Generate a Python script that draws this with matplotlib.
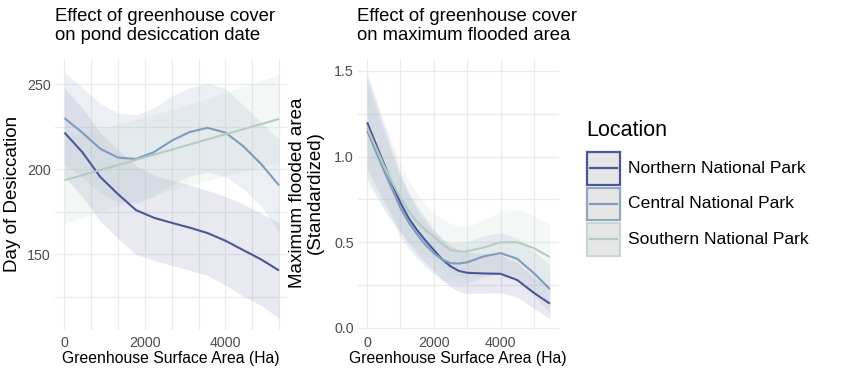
import matplotlib
matplotlib.use("Agg")
import matplotlib.pyplot as plt
from matplotlib.patches import Rectangle
from matplotlib.lines import Line2D
from matplotlib.ticker import FixedLocator

plt.rcParams['font.family'] = ['Liberation Sans', 'DejaVu Sans']

locations = ["Northern National Park", "Central National Park", "Southern National Park"]
line_colors = ["#4b5796", "#7f9cba", "#b4cbc2"]
fill_colors = ["#7d7fb5", "#93a9c4", "#b9d0c6"]
box_colors = ["#4b5597", "#8fa7c3", "#c6d8d1"]

# ---- Left panel: day of desiccation ----
x_left = [0, 444, 889, 1333, 1778, 2222, 2667, 3111, 3556, 4000, 4444, 4889, 5333]
desic_north = [221.5, 210, 195.5, 185.3, 176, 171.5, 168.5, 165.7, 162.5, 158, 152.5, 147, 140.5]
desic_north_hi = [247.5, 236, 221.5, 211.3, 202, 196.5, 193.5, 190.7, 187.5, 184, 179.5, 174, 168.5]
desic_north_lo = [195.5, 184, 169.5, 159.3, 150, 146.5, 143.5, 140.7, 137.5, 132, 125.5, 120, 112.5]
desic_central = [230, 221.5, 212, 206.8, 206, 210, 216.8, 221.8, 224.3, 221.5, 213.5, 203, 190.5]
desic_central_hi = [257, 248, 238.5, 233, 232, 236, 243, 248, 250.3, 247.5, 237.5, 227.5, 217.5]
desic_central_lo = [203, 195, 186, 181, 180, 184, 191, 196, 198.3, 195.5, 188.5, 178.5, 163]
desic_south = [193.5, 196.5, 199.5, 202.5, 205.5, 208.5, 211.5, 214.5, 217.5, 220.5, 223.5, 226.5, 229.5]
desic_south_hi = [219, 221.5, 224, 226.5, 229.5, 232, 235, 238, 241.5, 245, 248.5, 252, 255.5]
desic_south_lo = [168, 171.5, 175, 178.5, 181.5, 185, 188, 191, 193.5, 196, 198.5, 201, 203.5]

# ---- Right panel: maximum flooded area ----
x_right = [0, 250, 500, 750, 1000, 1250, 1500, 1750, 2000, 2250, 2500, 2750, 3000,
           3500, 4000, 4500, 5000, 5480]
flood_north = [1.20, 1.08, 0.96, 0.84, 0.73, 0.64, 0.57, 0.51, 0.455, 0.40, 0.36, 0.333, 0.322,
               0.318, 0.316, 0.28, 0.205, 0.142]
flood_north_hi = [1.47, 1.33, 1.18, 1.04, 0.90, 0.79, 0.71, 0.64, 0.575, 0.52, 0.48, 0.455, 0.442,
                  0.433, 0.426, 0.38, 0.295, 0.232]
flood_north_lo = [0.93, 0.83, 0.74, 0.65, 0.56, 0.49, 0.43, 0.38, 0.335, 0.28, 0.24, 0.212, 0.202,
                  0.203, 0.206, 0.18, 0.115, 0.052]
flood_central = [1.152, 1.035, 0.92, 0.81, 0.70, 0.615, 0.545, 0.485, 0.437, 0.40, 0.378, 0.376, 0.383,
                 0.418, 0.437, 0.404, 0.32, 0.227]
flood_central_hi = [1.432, 1.285, 1.14, 1.00, 0.87, 0.77, 0.685, 0.615, 0.557, 0.52, 0.498, 0.496, 0.503,
                    0.538, 0.557, 0.524, 0.45, 0.367]
flood_central_lo = [0.872, 0.785, 0.70, 0.62, 0.53, 0.46, 0.405, 0.355, 0.317, 0.28, 0.258, 0.256, 0.263,
                    0.298, 0.317, 0.284, 0.19, 0.087]
flood_south = [1.17, 1.06, 0.95, 0.85, 0.76, 0.68, 0.62, 0.57, 0.534, 0.49, 0.455, 0.447, 0.447,
               0.47, 0.50, 0.50, 0.466, 0.414]
flood_south_hi = [1.49, 1.35, 1.21, 1.08, 0.96, 0.86, 0.78, 0.72, 0.67, 0.635, 0.61, 0.595, 0.59,
                  0.63, 0.68, 0.69, 0.656, 0.604]
flood_south_lo = [0.85, 0.77, 0.69, 0.62, 0.56, 0.50, 0.46, 0.42, 0.40, 0.345, 0.30, 0.30, 0.30,
                  0.31, 0.32, 0.31, 0.276, 0.224]

W, H = 850, 378
fig = plt.figure(figsize=(W / 100, H / 100), dpi=100)
fig.patch.set_facecolor("white")


def px_axes(l, r, t, b):
    return fig.add_axes([l / W, 1 - b / H, (r - l) / W, (b - t) / H])


axL = px_axes(55, 287, 59, 330)
axR = px_axes(358, 559, 59, 330)

grid_c = "#ebebeb"
tick_c = "#4d4d4d"

for ax in (axL, axR):
    for s in ax.spines.values():
        s.set_visible(False)
    ax.set_facecolor("white")
    ax.tick_params(axis="both", which="both", length=0, colors=tick_c, labelsize=10.3)
    ax.tick_params(axis="x", pad=4)
    ax.tick_params(axis="y", pad=3)
    ax.grid(True, which="both", color=grid_c, linewidth=0.9)
    ax.set_axisbelow(True)

left_sets = [
    (desic_north, desic_north_lo, desic_north_hi),
    (desic_central, desic_central_lo, desic_central_hi),
    (desic_south, desic_south_lo, desic_south_hi),
]
right_sets = [
    (flood_north, flood_north_lo, flood_north_hi),
    (flood_central, flood_central_lo, flood_central_hi),
    (flood_south, flood_south_lo, flood_south_hi),
]

for ax, xs, sets in ((axL, x_left, left_sets), (axR, x_right, right_sets)):
    for (y, lo, hi), fc in zip(sets, fill_colors):
        ax.fill_between(xs, lo, hi, color=fc, alpha=0.17, linewidth=0, zorder=2)
    for (y, lo, hi), lc in zip(sets, line_colors):
        ax.plot(xs, y, color=lc, linewidth=1.5, zorder=3, solid_capstyle="butt",
                solid_joinstyle="round")

# Left axis scales
axL.set_xlim(-235, 5530)
axL.set_ylim(105.6, 264.7)
axL.xaxis.set_major_locator(FixedLocator([0, 2000, 4000]))
axL.xaxis.set_minor_locator(FixedLocator([666.7, 1333.3, 2666.7, 3333.3, 4666.7, 5333.3]))
axL.yaxis.set_major_locator(FixedLocator([150, 200, 250]))
axL.yaxis.set_minor_locator(FixedLocator([125, 175, 225]))
axL.set_xticklabels(["0", "2000", "4000"])
axL.set_yticklabels(["150", "200", "250"])

# Right axis scales
axR.set_xlim(-274, 5754)
axR.set_ylim(-0.012, 1.57)
axR.xaxis.set_major_locator(FixedLocator([0, 2000, 4000]))
axR.xaxis.set_minor_locator(FixedLocator([1000, 3000, 5000]))
axR.yaxis.set_major_locator(FixedLocator([0.0, 0.5, 1.0, 1.5]))
axR.yaxis.set_minor_locator(FixedLocator([0.25, 0.75, 1.25]))
axR.set_xticklabels(["0", "2000", "4000"])
axR.set_yticklabels(["0.0", "0.5", "1.0", "1.5"])

# Titles
fig.text(55 / W, 1 - 8 / H, "Effect of greenhouse cover\non pond desiccation date",
         ha="left", va="top", fontsize=13.3, linespacing=1.12, color="black")
fig.text(357 / W, 1 - 8 / H, "Effect of greenhouse cover\non maximum flooded area",
         ha="left", va="top", fontsize=13.3, linespacing=1.12, color="black")

# Axis titles
fig.text(171 / W, 1 - 359 / H, "Greenhouse Surface Area (Ha)", ha="center", va="center",
         fontsize=11.3, color="black")
fig.text(458 / W, 1 - 359 / H, "Greenhouse Surface Area (Ha)", ha="center", va="center",
         fontsize=11.3, color="black")
fig.text(12.5 / W, 1 - 194 / H, "Day of Desiccation", rotation=90, ha="center", va="center",
         fontsize=13.5, color="black")
fig.text(306.5 / W, 1 - 193 / H, "Maximum flooded area\n(Standardized)", rotation=90,
         ha="center", va="center", fontsize=13.5, linespacing=1.12, color="black",
         multialignment="center")

# Legend (drawn manually)
fig.text(586 / W, 1 - 130 / H, "Location", ha="left", va="center", fontsize=15.5, color="black")
box_tops = [152, 187.5, 223]
for name, lc, bc, top in zip(locations, line_colors, box_colors, box_tops):
    rect = Rectangle((587 / W, 1 - (top + 32.5) / H), 32.5 / W, 32.5 / H,
                     transform=fig.transFigure, facecolor="#e6e6e7", edgecolor=bc,
                     linewidth=1.6, zorder=5)
    fig.add_artist(rect)
    cy = 1 - (top + 16.25) / H
    fig.add_artist(Line2D([589.5 / W, 617 / W], [cy, cy], transform=fig.transFigure,
                          color=lc, linewidth=1.6, zorder=6))
    fig.text(628 / W, cy, name, ha="left", va="center", fontsize=12.6, color="black")

fig.savefig("out.png", dpi=100)
